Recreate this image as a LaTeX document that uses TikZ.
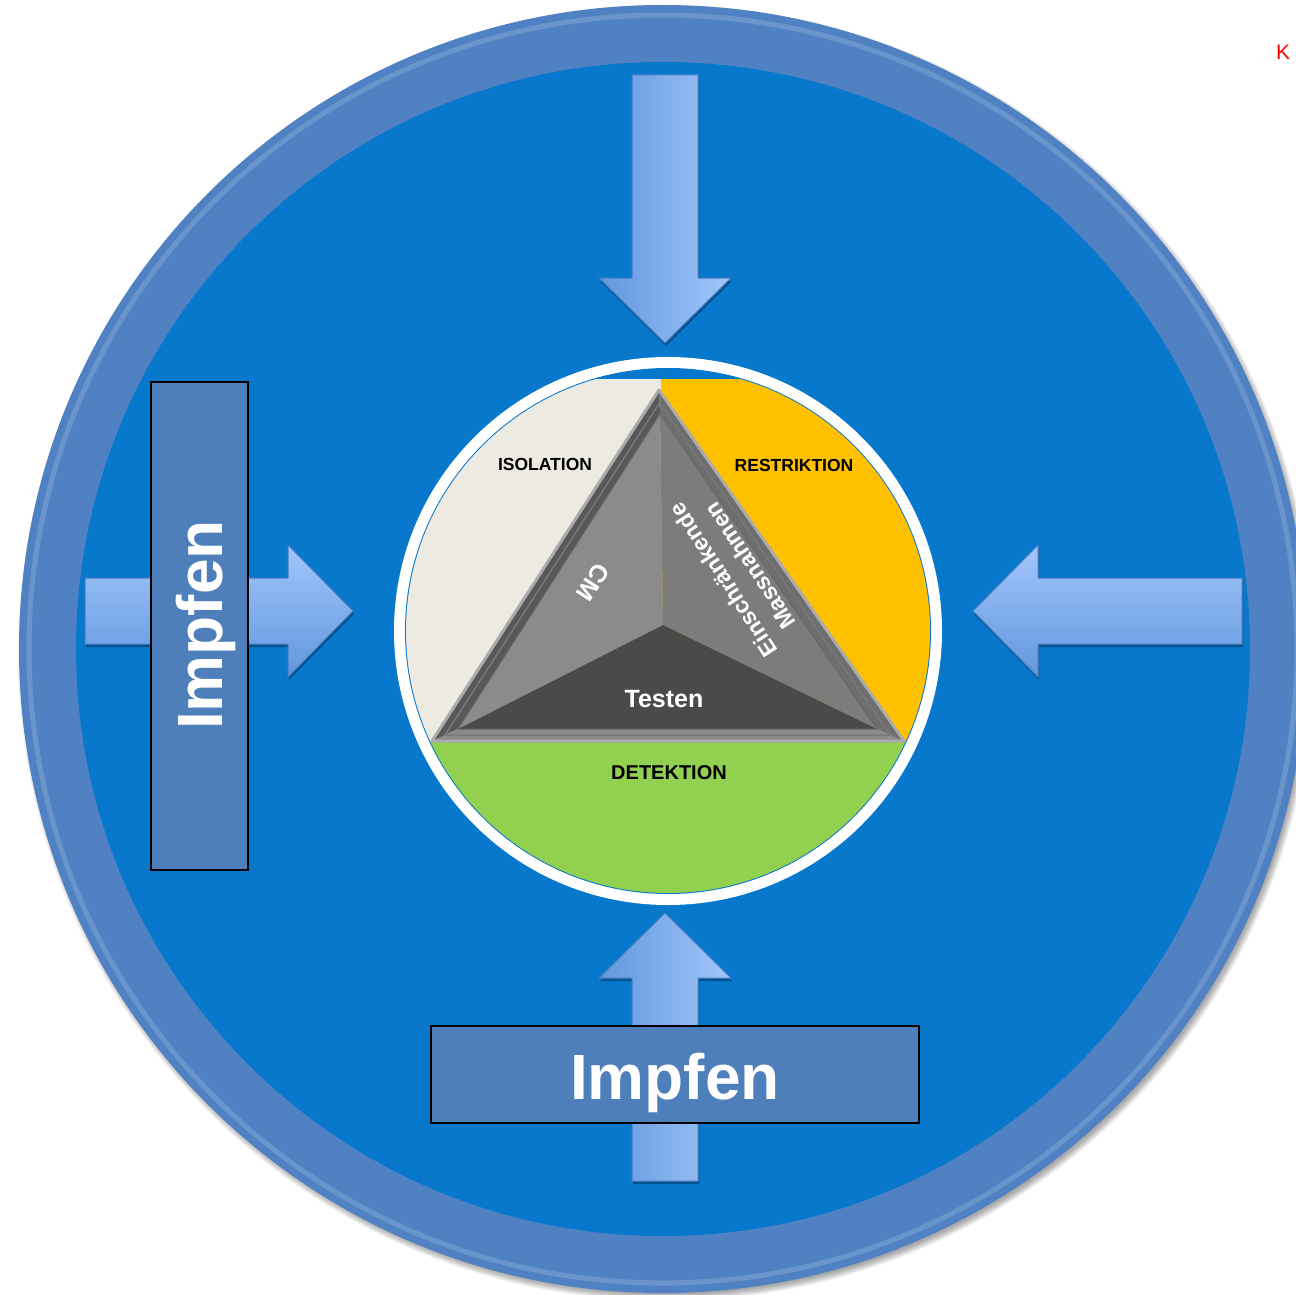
\documentclass[tikz,border=0pt]{standalone}
\usepackage{fontspec}
\setmainfont{Liberation Sans}
\usetikzlibrary{shadows}

\definecolor{ringblue}{HTML}{5082C3}
\definecolor{diskblue}{HTML}{0778CC}
\definecolor{boxblue}{HTML}{4F7FBA}
\definecolor{arrowlight}{HTML}{A2C6FB}
\definecolor{arrowdark}{HTML}{6197DE}
\definecolor{arrowedge}{HTML}{4A7EC2}
\definecolor{isobeige}{HTML}{EDEAE1}
\definecolor{restorange}{HTML}{FFC000}
\definecolor{detgreen}{HTML}{92D050}
\definecolor{framelight}{HTML}{ABABAB}
\definecolor{framegray}{HTML}{6E6E6E}
\definecolor{faceleft}{HTML}{8B8B8B}
\definecolor{faceright}{HTML}{7C7C7C}
\definecolor{facebottom}{HTML}{4A4A4A}

\tikzset{
  fieldtext/.style={font=\bfseries\fontsize{17.5}{20}\selectfont, text=black, anchor=base, inner sep=0pt},
  facetext/.style={font=\bfseries\fontsize{23}{29}\selectfont, text=white, inner sep=0pt, align=center},
  impfbox/.style={draw=black, line width=1.5pt, fill=boxblue, inner sep=0pt},
  impftext/.style={font=\bfseries\fontsize{64}{70}\selectfont, text=white, anchor=base, inner sep=0pt},
  arrowshadow/.style={drop shadow={shadow xshift=1pt, shadow yshift=-3pt, opacity=.3, fill=black}},
  varrow/.style={draw=arrowedge, line width=1pt, line join=round, left color=arrowdark, right color=arrowlight, arrowshadow},
  harrow/.style={draw=arrowedge, line width=1pt, line join=round, top color=arrowlight, bottom color=arrowdark, arrowshadow},
}

\begin{document}
\begin{tikzpicture}[x=1pt, y=-1pt]
\useasboundingbox (0,0) rectangle (1296,1295);
\clip (0,0) rectangle (1296,1295);

% big blue wheel with a soft shadow
\foreach \s in {1,...,8} {
    \pgfmathsetmacro{\rr}{640+\s}
    \fill[black, opacity=0.05] (666,653) circle (\rr pt);
}
\fill[ringblue] (663,649) circle (644pt);
\draw[ringblue!70!white, opacity=.5, line width=5pt] (663,649) circle (634pt);
\fill[diskblue] (663,649) circle (587pt);

% the four block arrows pointing inwards
\path[varrow] (632,75) -- (698,75) -- (698,278) -- (731,278) -- (665,343) -- (599,278) -- (632,278) -- cycle;
\path[varrow] (632,1181) -- (698,1181) -- (698,978) -- (731,978) -- (665,913) -- (599,978) -- (632,978) -- cycle;
\path[harrow] (1242,578) -- (1242,644) -- (1038,644) -- (1038,677) -- (973,611) -- (1038,545) -- (1038,578) -- cycle;
\path[harrow] (85,578) -- (85,644) -- (288,644) -- (288,677) -- (353,611) -- (288,545) -- (288,578) -- cycle;

% Impfen boxes
\node[impfbox, minimum width=97pt, minimum height=488pt] (leftbox) at (199.5,626) {};
\node[impftext, rotate=90] (lefttext) at (222,625) {Impfen};
\node[impfbox, minimum width=488pt, minimum height=97pt] (bottombox) at (675,1074.5) {};
\node[impftext] (bottomtext) at (675,1099) {Impfen};

% central disc with the three fields
\fill[white] (668,631) circle (274pt);
\fill[diskblue] (668,631) circle (263pt);
\begin{scope}
    \clip (668,631) circle (262pt);
    \fill[isobeige] (380,379) rectangle (661,741);
    \fill[restorange] (661,379) rectangle (960,741);
    \fill[detgreen] (380,741) rectangle (960,910);
\end{scope}

% pyramid
\coordinate (apex) at (659,390);
\coordinate (baseL) at (432,741);
\coordinate (baseR) at (904,741);
\coordinate (inA) at (660,414);
\coordinate (inL) at (458,729);
\coordinate (inR) at (877,729);
\coordinate (mid) at (663,625);

% frame of the pyramid
\fill[framegray!115] (apex) -- (baseL) -- (inL) -- (inA) -- cycle;
\fill[framegray] (apex) -- (inA) -- (inR) -- (baseR) -- cycle;
\fill[framegray!80!white] (baseL) -- (baseR) -- (inR) -- (inL) -- cycle;
\draw[framelight, line width=3pt, line join=round] (apex) -- (baseL) -- (baseR) -- cycle;
\draw[framelight!70!black, line width=1.5pt, line join=round] (659.5,403) -- (445,735) -- (890.5,735) -- cycle;

% the three faces
\fill[faceleft] (inA) -- (inL) -- (mid) -- cycle;
\fill[faceright] (inA) -- (mid) -- (inR) -- cycle;
\fill[facebottom] (inL) -- (inR) -- (mid) -- cycle;
\draw[framelight!60!black, line width=1pt, line join=round] (inA) -- (inL) -- (inR) -- cycle;

% labels
\node[fieldtext] (isolation) at (545,470) {ISOLATION};
\node[fieldtext] (restriktion) at (794,471) {RESTRIKTION};
\node[fieldtext, font=\bfseries\fontsize{20}{24}\selectfont] (detektion) at (669,779) {DETEKTION};
\node[facetext, anchor=base, font=\bfseries\fontsize{25}{30}\selectfont] (testen) at (664,707) {Testen};
\node[facetext, rotate=-123, font=\bfseries\fontsize{25}{30}\selectfont] (cm) at (593,582) {CM};
\node[facetext, rotate=123] (einschr) at (723,580) {Einschränkende};
\node[facetext, rotate=123] (massn) at (750,566) {Massnahmen};

\node[text=red, font=\fontsize{21}{24}\selectfont, anchor=base, inner sep=0pt] (kmark) at (1283,60) {K};

\end{tikzpicture}
\end{document}
